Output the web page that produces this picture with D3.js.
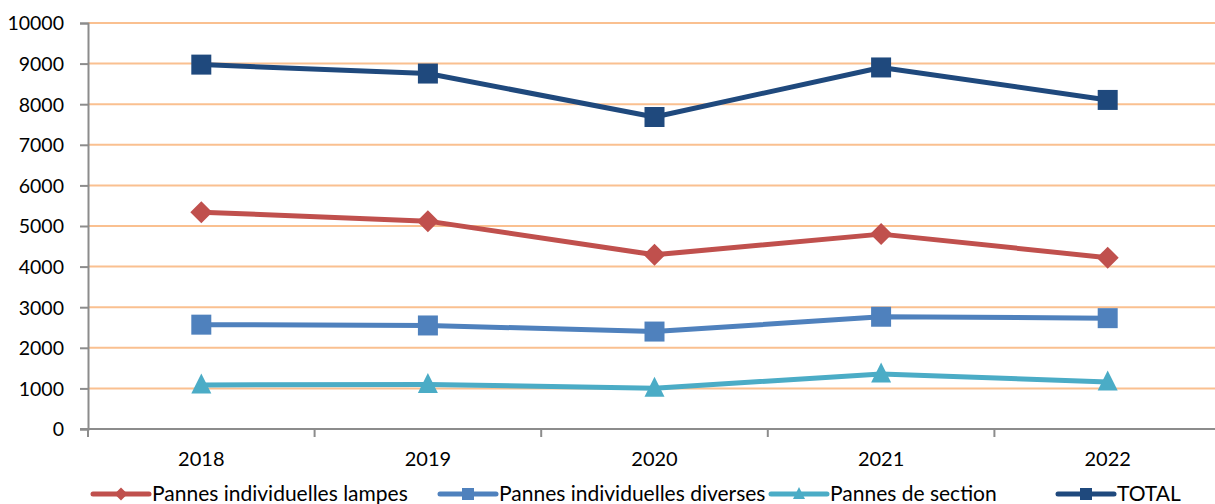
<!DOCTYPE html>
<html>
<head>
<meta charset="utf-8">
<title>Pannes</title>
<script src="https://d3js.org/d3.v7.min.js"></script>
<style>
  body { margin: 0; background: #fff; }
  text { font-family: Lato, "Open Sans", sans-serif; fill: #000; }
</style>
</head>
<body>
<svg width="1215" height="504"></svg>
<script>
// data
var years = ["2018", "2019", "2020", "2021", "2022"];
var lampes = [5340, 5120, 4290, 4800, 4220];
var diverses = [2570, 2550, 2400, 2765, 2730];
var section = [1085, 1095, 1005, 1355, 1160];
var total = [8975, 8755, 7685, 8905, 8105];
var yTicks = [0, 1000, 2000, 3000, 4000, 5000, 6000, 7000, 8000, 9000, 10000];

var series = [
  { name: "Pannes individuelles lampes", values: lampes, color: "#C0504D", marker: "diamond" },
  { name: "Pannes individuelles diverses", values: diverses, color: "#4F81BD", marker: "square" },
  { name: "Pannes de section", values: section, color: "#4BACC6", marker: "triangle" },
  { name: "TOTAL", values: total, color: "#1F497D", marker: "square" }
];

var svg = d3.select("svg");
var plotLeft = 88, plotRight = 1221, plotTop = 23, plotBottom = 429;

var x = d3.scaleBand().domain(years).range([plotLeft, plotRight]);
var y = d3.scaleLinear().domain([0, 10000]).range([plotBottom, plotTop]);

// gridlines
svg.append("g").selectAll("line")
  .data(yTicks.slice(1))
  .enter().append("line")
  .attr("x1", plotLeft).attr("x2", 1215)
  .attr("y1", function(d) { return y(d); })
  .attr("y2", function(d) { return y(d); })
  .attr("stroke", "#FAC090").attr("stroke-width", 2);

// y axis
var yAxis = svg.append("g")
  .attr("transform", "translate(" + plotLeft + ",0)")
  .call(d3.axisLeft(y).tickValues(yTicks).tickFormat(d3.format("d")).tickSize(8).tickPadding(16));
yAxis.select(".domain").attr("stroke", "#8c8c8c").attr("stroke-width", 2);
yAxis.selectAll(".tick line").attr("stroke", "#8c8c8c").attr("stroke-width", 2);
yAxis.selectAll("text").attr("font-size", "19.5px").attr("font-family", "Lato").attr("fill", "#000").attr("dy", "0.35em");

// x axis - ticks at category boundaries
var xAxis = svg.append("g")
  .attr("transform", "translate(0," + plotBottom + ")");
xAxis.append("line").attr("x1", plotLeft - 8).attr("x2", 1215)
  .attr("stroke", "#8c8c8c").attr("stroke-width", 2);
xAxis.selectAll(".bt").data(years.concat(["end"]))
  .enter().append("line")
  .attr("class", "bt")
  .attr("x1", function(d, i) { return plotLeft + i * x.bandwidth(); })
  .attr("x2", function(d, i) { return plotLeft + i * x.bandwidth(); })
  .attr("y1", 0).attr("y2", 8)
  .attr("stroke", "#8c8c8c").attr("stroke-width", 2);
xAxis.selectAll(".lbl").data(years)
  .enter().append("text")
  .attr("x", function(d) { return x(d) + x.bandwidth() / 2; })
  .attr("y", 37)
  .attr("text-anchor", "middle")
  .attr("font-size", "20px")
  .text(function(d) { return d; });

function markerPath(type, size) {
  var s = size / 2;
  if (type === "square") return "M" + (-s) + "," + (-s) + "h" + size + "v" + size + "h" + (-size) + "Z";
  if (type === "diamond") return "M0," + (-s) + "L" + s + ",0L0," + s + "L" + (-s) + ",0Z";
  return "M0," + (-s * 1.15) + "L" + s + "," + (s * 0.85) + "L" + (-s) + "," + (s * 0.85) + "Z";
}

var line = d3.line()
  .x(function(d, i) { return x(years[i]) + x.bandwidth() / 2; })
  .y(function(d) { return y(d); });

series.forEach(function(s) {
  var g = svg.append("g");
  g.append("path")
    .attr("d", line(s.values))
    .attr("fill", "none")
    .attr("stroke", s.color)
    .attr("stroke-width", 5)
    .attr("stroke-linejoin", "round");
  var size = s.marker === "diamond" ? 22 : 20;
  g.selectAll("path.m").data(s.values)
    .enter().append("path")
    .attr("class", "m")
    .attr("transform", function(d, i) {
      return "translate(" + (x(years[i]) + x.bandwidth() / 2) + "," + y(d) + ")";
    })
    .attr("d", markerPath(s.marker, size))
    .attr("fill", s.color);
});

// legend
var legX = [93, 440, 771, 1058];
var legY = 494;
series.forEach(function(s, i) {
  var g = svg.append("g").attr("transform", "translate(" + legX[i] + "," + legY + ")");
  g.append("line").attr("x1", 0).attr("x2", 56)
    .attr("stroke", s.color).attr("stroke-width", 5).attr("stroke-linecap", "round");
  g.append("path")
    .attr("transform", "translate(28,0)")
    .attr("d", markerPath(s.marker, s.marker === "diamond" ? 13 : 12))
    .attr("fill", s.color);
  g.append("text")
    .attr("x", 59).attr("y", 0).attr("dy", "0.35em")
    .attr("font-size", "21px")
    .text(s.name);
});
</script>
</body>
</html>
